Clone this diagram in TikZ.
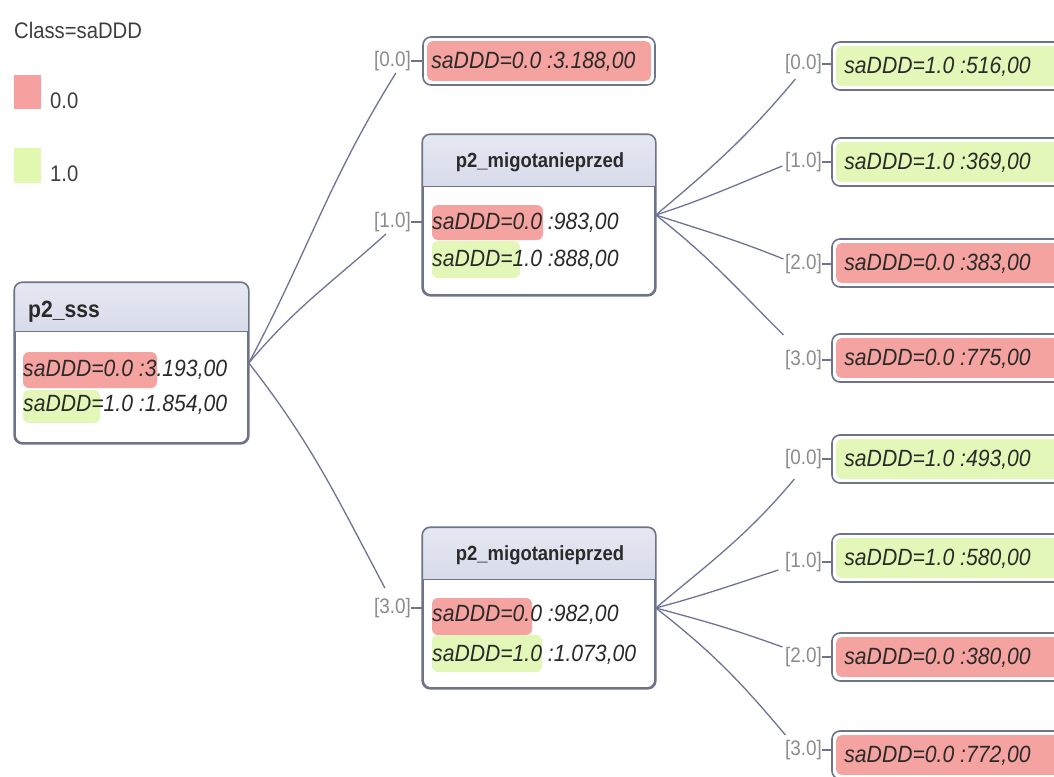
\documentclass[tikz,border=0pt]{standalone}
\usepackage{fontspec}
\setmainfont{Liberation Sans}[FakeStretch=0.9]
\usetikzlibrary{calc}
\definecolor{bordc}{HTML}{6E7388}
\definecolor{edgec}{HTML}{6F7399}
\definecolor{hdtop}{HTML}{E6E8F2}
\definecolor{hdbot}{HTML}{B7BDD8}
\definecolor{redc}{HTML}{F5A3A0}
\definecolor{greenc}{HTML}{E3F8B8}
\definecolor{legred}{HTML}{F7A0A0}
\definecolor{leggreen}{HTML}{E0F8B0}
\definecolor{labc}{HTML}{8C8C8C}
\definecolor{txtc}{HTML}{2A2A2A}
\newcommand\hdrbox[2]{%
  \begin{scope}
    \clip ($(#1.north west)+(-2,2)$) rectangle ($(#1.north east)+(2,-#2)$);
    \shade[top color=hdtop,bottom color=hdbot,rounded corners=8pt] (#1.north west) rectangle (#1.south east);
  \end{scope}
  \draw[bordc,line width=1.6pt,rounded corners=8pt] (#1.north west) rectangle (#1.south east);
  \draw[bordc,line width=1.2pt] ($(#1.north west)+(0,-#2)$) -- ($(#1.north east)+(0,-#2)$);
}
% #1 name, #2 center x, #3 width, #4 center y, #5 colour, #6 text inset, #7 text
\newcommand\leafbox[7]{%
  \node[boxframe,minimum width=#3pt,minimum height=48pt] (#1) at (#2,-#4) {};
  \fill[#5,rounded corners=5pt] ($(#1.south west)+(5,5)$) rectangle ($(#1.north east)+(-5,-5)$);
  \node[body] (#1t) at ($(#1.west)+(#6,-1)$) {#7};
}
\begin{document}
\begin{tikzpicture}[x=1pt,y=1pt,
  boxframe/.style={draw=bordc,line width=1.6pt,rounded corners=8pt,fill=white,inner sep=0pt},
  edge/.style={draw=edgec,line width=1.3pt},
  lab/.style={text=labc,font=\fontsize{21}{24}\selectfont,inner sep=0pt},
  body/.style={font=\fontsize{23.5}{27}\selectfont\itshape,text=txtc,inner sep=0pt,anchor=west},
  hdr/.style={font=\fontsize{20.5}{24}\selectfont\bfseries,text=txtc,inner sep=0pt},
  legtxt/.style={font=\fontsize{22.5}{26}\selectfont,text=txtc!90,inner sep=0pt,anchor=west},
  hl/.style={rounded corners=6pt}]
\clip (0,0) rectangle (1054,-776);
\fill[white] (0,0) rectangle (1054,-776);

% legend
\node[legtxt] (legtitle) at (14,-30) {Class=saDDD};
\fill[legred] (14,-75) rectangle (41,-109);
\node[legtxt] (leg0) at (50,-101) {0.0};
\fill[leggreen] (14,-148) rectangle (41,-183);
\node[legtxt] (leg1) at (50,-174) {1.0};

% root
\node[boxframe,minimum width=233pt,minimum height=160pt] (root) at (131.5,-363) {};
\hdrbox{root}{49}
\node[hdr,anchor=west,font=\fontsize{23.5}{27}\selectfont\bfseries] (rootH) at (28,-312) {p2\_sss};
\fill[redc,hl] (23,-352) rectangle (157,-388);
\fill[greenc,hl] (23,-390) rectangle (100,-423);
\node[body] (rootA) at (23,-370) {saDDD=0.0 :3.193,00};
\node[body] (rootB) at (23,-405) {saDDD=1.0 :1.854,00};

% middle node 1
\node[boxframe,minimum width=232pt,minimum height=160pt] (mid1) at (539,-215) {};
\hdrbox{mid1}{52}
\node[hdr] (mid1H) at (540,-162) {p2\_migotanieprzed};
\fill[redc,hl] (432,-205) rectangle (543,-240);
\fill[greenc,hl] (432,-241) rectangle (520,-278);
\node[body] (mid1A) at (432,-223) {saDDD=0.0 :983,00};
\node[body] (mid1B) at (432,-260) {saDDD=1.0 :888,00};

% middle node 2
\node[boxframe,minimum width=232pt,minimum height=160pt] (mid2) at (539,-608) {};
\hdrbox{mid2}{52}
\node[hdr] (mid2H) at (540,-555) {p2\_migotanieprzed};
\fill[redc,hl] (432,-598) rectangle (532,-635);
\fill[greenc,hl] (432,-635) rectangle (542,-672);
\node[body] (mid2A) at (432,-615) {saDDD=0.0 :982,00};
\node[body] (mid2B) at (432,-655) {saDDD=1.0 :1.073,00};

% top-middle leaf
\leafbox{leafA}{539}{232}{61}{redc}{9}{saDDD=0.0 :3.188,00}

% right leaves
\leafbox{r1}{952}{240}{66}{greenc}{13}{saDDD=1.0 :516,00}
\leafbox{r2}{952}{240}{162}{greenc}{13}{saDDD=1.0 :369,00}
\leafbox{r3}{952}{240}{263}{redc}{13}{saDDD=0.0 :383,00}
\leafbox{r4}{952}{240}{358}{redc}{13}{saDDD=0.0 :775,00}
\leafbox{r5}{952}{240}{459}{greenc}{13}{saDDD=1.0 :493,00}
\leafbox{r6}{952}{240}{558}{greenc}{13}{saDDD=1.0 :580,00}
\leafbox{r7}{952}{240}{657}{redc}{13}{saDDD=0.0 :380,00}
\leafbox{r8}{952}{240}{755}{redc}{13}{saDDD=0.0 :772,00}

% labels (middle column)
\node[lab,anchor=east] (lA) at (411,-61) {[0.0]};
\node[lab,anchor=east] (lB) at (411,-222) {[1.0]};
\node[lab,anchor=east] (lC) at (411,-608) {[3.0]};
\draw[bordc,line width=1.2pt] (lA.east) -- (leafA.west);
\draw[bordc,line width=1.2pt] (lB.east) -- (lB.east -| mid1.west);
\draw[bordc,line width=1.2pt] (lC.east) -- (lC.east -| mid2.west);

% labels (right column)
\foreach \n/\t/\y in {q1/0.0/64,q2/1.0/162,q3/2.0/264,q4/3.0/360,q5/0.0/459,q6/1.0/562,q7/2.0/657,q8/3.0/750}{
  \node[lab,anchor=east] (\n) at (822,-\y) {[\t]};
}
\foreach \n/\r in {q1/r1,q2/r2,q3/r3,q4/r4,q5/r5,q6/r6,q7/r7,q8/r8}{
  \draw[bordc,line width=1.2pt] (\n.east) -- (\n.east -| \r.west);
}

% edges from root
\draw[edge] (root.east) to[out=62,in=-122] ($(lA.center)+(3.5,-12)$);
\draw[edge] (root.east) to[out=50,in=-138] ($(lB.center)+(-6.5,-12)$);
\draw[edge] (root.east) to[out=-52,in=118] ($(lC.center)+(-7.5,20)$);

% edges from mid1
\draw[edge] (mid1.east) to[out=40,in=-130] ($(q1.center)+(-8,-15)$);
\draw[edge] (mid1.east) to[out=18,in=-158] ($(q2.center)+(-21,-4)$);
\draw[edge] (mid1.east) to[out=-18,in=158] ($(q3.center)+(-20,5)$);
\draw[edge] (mid1.east) to[out=-38,in=135] ($(q4.center)+(-20,25)$);

% edges from mid2
\draw[edge] (mid2.east) to[out=40,in=-130] ($(q5.center)+(-9,-20)$);
\draw[edge] (mid2.east) to[out=15,in=-162] ($(q6.center)+(-25,-8)$);
\draw[edge] (mid2.east) to[out=-15,in=160] ($(q7.center)+(-21,10)$);
\draw[edge] (mid2.east) to[out=-38,in=130] ($(q8.center)+(-18,15)$);
\end{tikzpicture}
\end{document}
